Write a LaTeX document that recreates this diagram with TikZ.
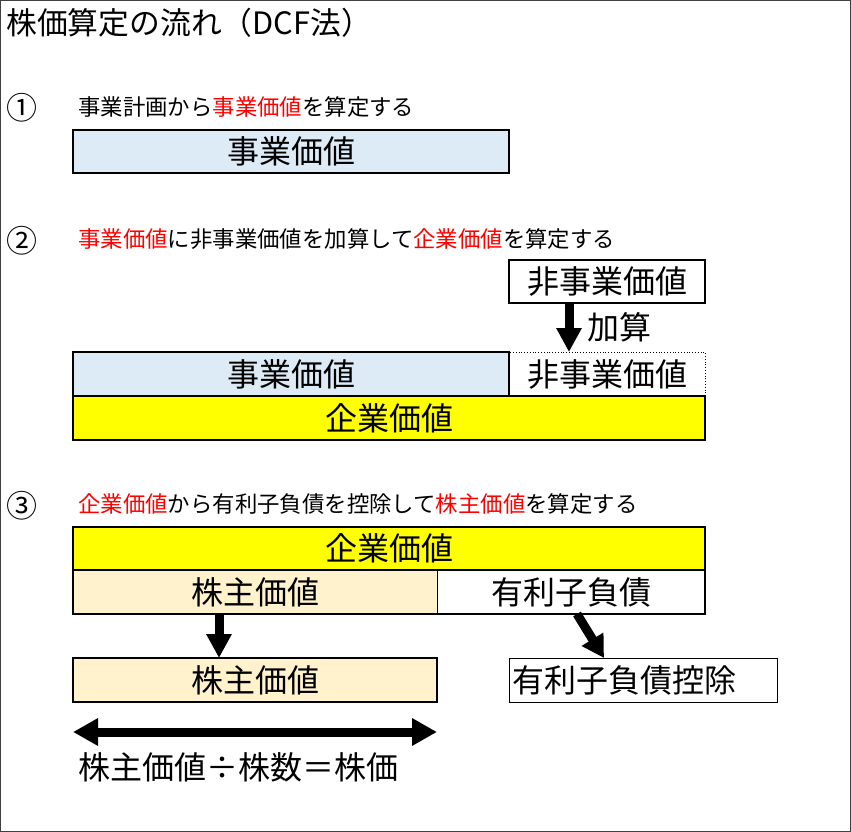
\documentclass[tikz,border=0pt]{standalone}
\usepackage{fontspec}
\setmainfont{Noto Sans CJK JP}
\usetikzlibrary{arrows.meta}
\definecolor{bizblue}{HTML}{DDEBF7}
\definecolor{entyellow}{HTML}{FFFF00}
\definecolor{shrorange}{HTML}{FFF2CC}
\definecolor{hlred}{HTML}{FF0000}
\tikzset{
  boxtext/.style={font=\fontsize{32}{32}\selectfont, text height=28.2pt, text depth=3.8pt, inner sep=0pt, outer sep=0pt},
  valbox/.style={boxtext, draw=black, line width=2pt, anchor=north west},
  steptext/.style={font=\fontsize{22.4}{22.4}\selectfont, text height=19.7pt, text depth=2.7pt, inner sep=0pt, anchor=west},
  stepnum/.style={font=\fontsize{31}{31}\selectfont, text height=27.3pt, text depth=3.7pt, inner sep=0pt},
  bigarrow/.style={line width=9pt, -{Triangle[width=24pt,length=24pt]}},
  dblarrow/.style={line width=9pt, {Triangle[width=26pt,length=25pt]}-{Triangle[width=26pt,length=25pt]}},
}
\begin{document}
\begin{tikzpicture}[x=1pt,y=-1pt]
\useasboundingbox (0,0) rectangle (851,832);
\draw[black!75, line width=1pt] (0.5,0.5) rectangle (850.5,831.5);

% title
\node[anchor=west, inner sep=0pt, font=\fontsize{30.8}{30.8}\selectfont, text height=27.1pt, text depth=3.7pt] (title) at (6,23) {株価算定の流れ（DCF法）};

% step 1
\node[stepnum] (n1) at (22,108) {①};
\node[steptext] (s1) at (78,107) {事業計画から\textcolor{hlred}{事業価値}を算定する};
\node[valbox, fill=bizblue, minimum width=436pt, minimum height=43pt] (a1) at (73,130) {事業価値};

% step 2
\node[stepnum] (n2) at (22,241) {②};
\node[steptext] (s2) at (78,239) {\textcolor{hlred}{事業価値}に非事業価値を加算して\textcolor{hlred}{企業価値}を算定する};
\node[valbox, fill=white, minimum width=196pt, minimum height=43pt] (nb) at (509,260) {非事業価値};
\node[valbox, fill=bizblue, minimum width=436pt, minimum height=44pt] (bv) at (73,352) {事業価値};
\node[boxtext, anchor=north west, draw=black, line width=0.8pt, dotted, minimum width=196pt, minimum height=44pt] (nd) at (509,352) {非事業価値};
\node[valbox, fill=entyellow, minimum width=632pt, minimum height=44pt] (ev) at (73,396) {企業価値};
\draw[line width=2pt] (bv.north west) rectangle (bv.south east);
\draw[bigarrow] ([xshift=60pt]nb.south west) -- ([xshift=60pt]nd.north west);
\node[boxtext, anchor=west] (add) at (587,327) {加算};

% step 3
\node[stepnum] (n3) at (22,506) {③};
\node[steptext] (s3) at (78,504) {\textcolor{hlred}{企業価値}から有利子負債を控除して\textcolor{hlred}{株主価値}を算定する};
\node[boxtext, anchor=north west, fill=entyellow, minimum width=632pt, minimum height=43pt] (c1) at (73,527) {企業価値};
\node[boxtext, anchor=north west, fill=shrorange, minimum width=364pt, minimum height=44pt] (c2) at (73,570) {株主価値};
\node[boxtext, anchor=north west, fill=white, minimum width=268pt, minimum height=44pt] (c3) at (437,570) {有利子負債};
\draw[line width=0.8pt] (c3.north west) -- (c3.south west);
\draw[line width=2pt] (c1.south west) -- (c1.south east);
\draw[line width=2pt] (c1.north west) rectangle (c3.south east);

\node[valbox, fill=shrorange, minimum width=364pt, minimum height=44pt] (c4) at (73,658) {株主価値};
\node[boxtext, anchor=north west, draw=black, line width=1pt, minimum width=268pt, minimum height=44pt, align=left, text width=262pt, inner xsep=3pt] (c5) at (509,658) {有利子負債控除};

\draw[bigarrow] ([xshift=146pt]c2.south west) -- ([xshift=146pt]c4.north west);
\draw[line width=9pt, -{Triangle[width=24pt,length=22pt]}] ([xshift=140pt]c3.south west) -- ([xshift=95pt]c5.north west);

\draw[dblarrow] ([yshift=-30pt]c4.south west) -- ([yshift=-30pt]c4.south east);
\node[boxtext, anchor=west] (formula) at (78,767) {株主価値÷株数＝株価};
\end{tikzpicture}
\end{document}
